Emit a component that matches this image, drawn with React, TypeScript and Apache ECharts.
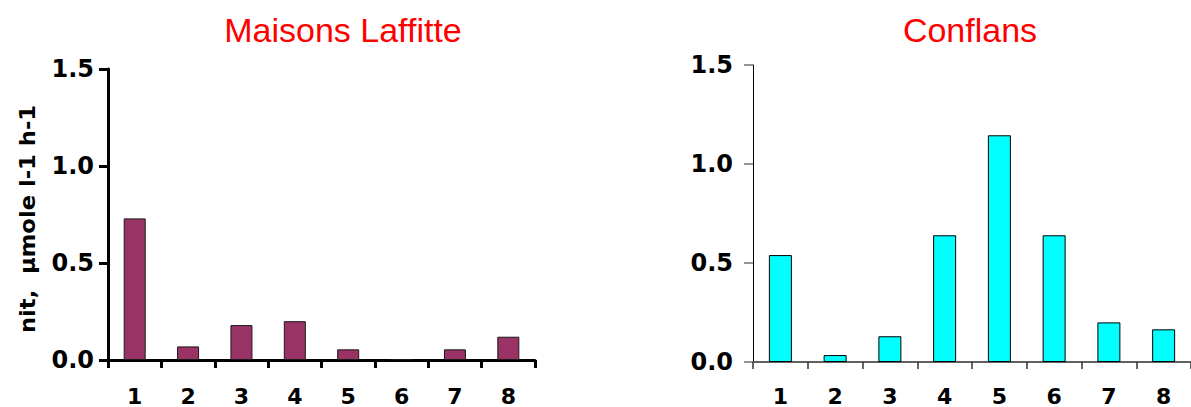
import React, { useEffect, useRef } from "react";
import * as echarts from "echarts";

// Sampling stations 1–8
const categories = ["1", "2", "3", "4", "5", "6", "7", "8"];

// nitrification rate, µmole l-1 h-1
const maisonsLaffitte = [0.73, 0.07, 0.18, 0.2, 0.055, 0.004, 0.055, 0.12];
const conflans = [0.54, 0.035, 0.13, 0.64, 1.145, 0.64, 0.2, 0.165];

const yTicks = { min: 0, max: 1.5, interval: 0.5 };

const titles = ["Maisons Laffitte", "Conflans"];
const yAxisTitle = "nit,  µmole l-1 h-1";

const tickFont = {
  fontFamily: "'DejaVu Sans', sans-serif",
  fontWeight: "bold" as const,
  color: "#000",
};

export default function App() {
  const ref = useRef<HTMLDivElement>(null);

  useEffect(() => {
    if (!ref.current) return;
    const chart = echarts.init(ref.current, null, { renderer: "svg" });

    const valueAxis = (gridIndex: number, heavy: boolean) => ({
      type: "value" as const,
      gridIndex,
      min: yTicks.min,
      max: yTicks.max,
      interval: yTicks.interval,
      splitLine: { show: false },
      axisLine: {
        show: true,
        lineStyle: { color: "#000", width: heavy ? 3 : 1 },
      },
      axisTick: {
        show: true,
        length: 9,
        lineStyle: { color: heavy ? "#000" : "#707070", width: heavy ? 3 : 1.5 },
      },
      axisLabel: {
        ...tickFont,
        fontSize: 24,
        margin: heavy ? 14 : 20,
        formatter: (v: number) => v.toFixed(1),
      },
    });

    const categoryAxis = (gridIndex: number, heavy: boolean) => ({
      type: "category" as const,
      gridIndex,
      data: categories,
      boundaryGap: true,
      axisLine: {
        show: true,
        lineStyle: { color: heavy ? "#000" : "#606060", width: heavy ? 3 : 2 },
      },
      axisTick: {
        show: true,
        length: heavy ? 8 : 7,
        alignWithLabel: false,
        lineStyle: { color: heavy ? "#000" : "#333", width: heavy ? 3 : 1.5 },
      },
      axisLabel: { ...tickFont, fontSize: 22, margin: heavy ? 25 : 23 },
    });

    chart.setOption({
      animation: false,
      backgroundColor: "#fff",
      grid: [
        { left: 108, top: 69, width: 427, height: 294 },
        { left: 753, top: 65, width: 442, height: 297 },
      ],
      xAxis: [categoryAxis(0, true), categoryAxis(1, false)],
      yAxis: [valueAxis(0, true), valueAxis(1, false)],
      series: [
        {
          name: titles[0],
          type: "bar",
          xAxisIndex: 0,
          yAxisIndex: 0,
          data: maisonsLaffitte,
          barWidth: 22,
          itemStyle: { color: "#993366", borderColor: "#1a1a1a", borderWidth: 1 },
        },
        {
          name: titles[1],
          type: "bar",
          xAxisIndex: 1,
          yAxisIndex: 1,
          data: conflans,
          barWidth: 23,
          itemStyle: { color: "#00FFFF", borderColor: "#000", borderWidth: 1 },
        },
      ],
      graphic: [
        {
          type: "text",
          x: 343,
          y: 30,
          style: {
            text: titles[0],
            fill: "#ff0000",
            font: "34px 'Liberation Sans', Arial, sans-serif",
            align: "center",
            verticalAlign: "middle",
          },
        },
        {
          type: "text",
          x: 970,
          y: 30,
          style: {
            text: titles[1],
            fill: "#ff0000",
            font: "34px 'Liberation Sans', Arial, sans-serif",
            align: "center",
            verticalAlign: "middle",
          },
        },
        {
          // vertical axis title, stretched slightly along its length
          type: "text",
          x: 28,
          y: 219,
          rotation: Math.PI / 2,
          scaleX: 1.08,
          style: {
            text: yAxisTitle,
            fill: "#000",
            font: "bold 21px 'DejaVu Sans', sans-serif",
            align: "center",
            verticalAlign: "middle",
          },
        },
      ],
    });

    return () => chart.dispose();
  }, []);

  return (
    <div
      ref={ref}
      style={{ position: "absolute", left: 0, top: 0, width: 1191, height: 407 }}
    />
  );
}
